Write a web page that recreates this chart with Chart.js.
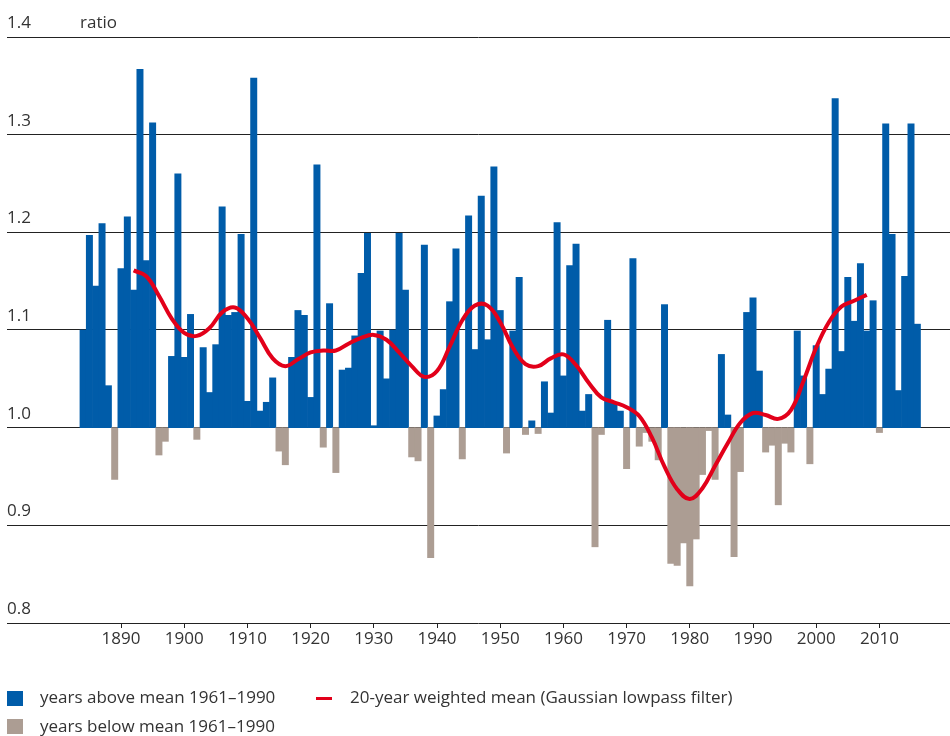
<!DOCTYPE html>
<html>
<head>
<meta charset="utf-8">
<script src="https://cdn.jsdelivr.net/npm/chart.js@4/dist/chart.umd.min.js"></script>
<style>
  html, body { margin: 0; padding: 0; background: #fff; }
  #wrap { position: relative; width: 950px; height: 736px; font-family: "Open Sans", sans-serif; color: #333; }
  #chart { position: absolute; left: 0; top: 0; }
  .lbl { position: absolute; font-size: 17px; line-height: 20px; white-space: nowrap; }
  .sw { position: absolute; width: 16px; height: 15px; }
  .dash { position: absolute; width: 16px; height: 3px; background: #e2001a; }
</style>
</head>
<body>
<div id="wrap">
  <canvas id="chart" width="950" height="736"></canvas>
  <div class="lbl" style="left:80px; top:12px;">ratio</div>
  <div class="sw" style="left:7px; top:691px; background:#005ca9;"></div>
  <div class="lbl" style="left:40px; top:687px;">years above mean 1961–1990</div>
  <div class="dash" style="left:316px; top:697px;"></div>
  <div class="lbl" style="left:350px; top:687px;">20-year weighted mean (Gaussian lowpass filter)</div>
  <div class="sw" style="left:7px; top:719px; background:#ac9d93;"></div>
  <div class="lbl" style="left:40px; top:716px;">years below mean 1961–1990</div>
</div>
<script>
// yearly ratio vs. mean 1961-1990, first year 1884
const firstYear = 1884;
const ratios = [
  1.100, 1.197, 1.145, 1.209, 1.043, 0.947,                         // 1884-1889
  1.163, 1.216, 1.141, 1.367, 1.171, 1.312, 0.972, 0.986, 1.073, 1.260, // 1890s
  1.072, 1.116, 0.988, 1.082, 1.036, 1.085, 1.226, 1.115, 1.118, 1.198, // 1900s
  1.027, 1.358, 1.017, 1.026, 1.051, 0.976, 0.962, 1.072, 1.120, 1.115, // 1910s
  1.031, 1.269, 0.980, 1.127, 0.954, 1.059, 1.061, 1.094, 1.158, 1.199, // 1920s
  1.002, 1.099, 1.050, 1.100, 1.199, 1.141, 0.970, 0.966, 1.187, 0.867, // 1930s
  1.012, 1.039, 1.129, 1.183, 0.968, 1.217, 1.080, 1.237, 1.090, 1.267, // 1940s
  1.120, 0.974, 1.099, 1.154, 0.993, 1.007, 0.994, 1.047, 1.015, 1.210, // 1950s
  1.053, 1.166, 1.188, 1.017, 1.034, 0.878, 0.993, 1.110, 1.025, 1.017, // 1960s
  0.958, 1.173, 0.981, 0.995, 0.986, 0.967, 1.126, 0.861, 0.859, 0.882, // 1970s
  0.838, 0.886, 0.952, 0.997, 0.947, 1.075, 1.013, 0.868, 0.955, 1.118, // 1980s
  1.133, 1.058, 0.975, 0.982, 0.921, 0.984, 0.975, 1.099, 1.053, 0.963, // 1990s
  1.084, 1.034, 1.060, 1.337, 1.078, 1.154, 1.109, 1.168, 1.099, 1.130, // 2000s
  0.995, 1.311, 1.198, 1.038, 1.155, 1.311, 1.106                      // 2010-2016
];

// 20-year Gaussian lowpass, read every second year from 1892
const curveStart = 1892;
const curveValues = [
  1.161, 1.155, 1.135, 1.112, 1.097, 1.094, 1.102, 1.118, 1.123, 1.112, // 1892-1910
  1.092, 1.071, 1.063, 1.070, 1.077, 1.079, 1.079, 1.086, 1.092, 1.095, // 1912-1930
  1.090, 1.077, 1.063, 1.052, 1.058, 1.083, 1.110, 1.125, 1.125, 1.108, // 1932-1950
  1.082, 1.065, 1.063, 1.071, 1.075, 1.064, 1.046, 1.031, 1.026, 1.021, // 1952-1970
  1.012, 0.990, 0.960, 0.937, 0.927, 0.938, 0.961, 0.984, 1.005, 1.015, // 1972-1990
  1.013, 1.009, 1.018, 1.048, 1.082, 1.108, 1.124, 1.130, 1.136        // 1992-2008
];

const xTicks = [1890, 1900, 1910, 1920, 1930, 1940, 1950, 1960, 1970, 1980, 1990, 2000, 2010];
const yTicks = [0.8, 0.9, 1.0, 1.1, 1.2, 1.3, 1.4];

const BLUE = "#005ca9";
const BROWN = "#ac9d93";
const RED = "#e2001a";
const tickFont = { family: "'Open Sans', sans-serif", size: 17 };

const barData = ratios.map((v, i) => ({ x: firstYear + i, y: [1, v] }));
const curveData = curveValues.map((v, i) => ({ x: curveStart + 2 * i, y: v }));

new Chart(document.getElementById("chart"), {
  data: {
    datasets: [
      {
        type: "line",
        data: curveData,
        borderColor: RED,
        borderWidth: 4,
        pointRadius: 0,
        tension: 0.4,
        fill: false,
        order: 0,
      },
      {
        type: "bar",
        data: barData,
        backgroundColor: (ctx) => (ratios[ctx.dataIndex] >= 1 ? BLUE : BROWN),
        barPercentage: 1,
        categoryPercentage: 1,
        borderWidth: 0,
        order: 1,
      },
    ],
  },
  options: {
    responsive: false,
    animation: false,
    events: [],
    layout: { padding: { top: 37, left: 7, right: 0, bottom: 73 } },
    plugins: { legend: { display: false }, tooltip: { enabled: false } },
    scales: {
      x: {
        type: "linear",
        min: 1871.96,
        max: 2021.17,
        offset: false,
        afterBuildTicks: (axis) => { axis.ticks = xTicks.map((v) => ({ value: v })); },
        afterFit: (axis) => { axis.height = 40; },
        grid: { offset: false, drawOnChartArea: false, drawTicks: true, tickLength: 5, color: "#222" },
        border: { display: false },
        ticks: { font: tickFont, color: "#333", padding: 1, maxRotation: 0, autoSkip: false, callback: (v) => String(v) },
      },
      y: {
        min: 0.8,
        max: 1.4,
        afterBuildTicks: (axis) => { axis.ticks = yTicks.map((v) => ({ value: v })); },
        afterFit: (axis) => { axis.width = 0; },
        grid: { color: "#222", lineWidth: 1, drawTicks: false },
        border: { display: false },
        ticks: { mirror: true, padding: 0, labelOffset: -14, font: tickFont, color: "#333", callback: (v) => v.toFixed(1) },
      },
    },
  },
});
</script>
</body>
</html>
